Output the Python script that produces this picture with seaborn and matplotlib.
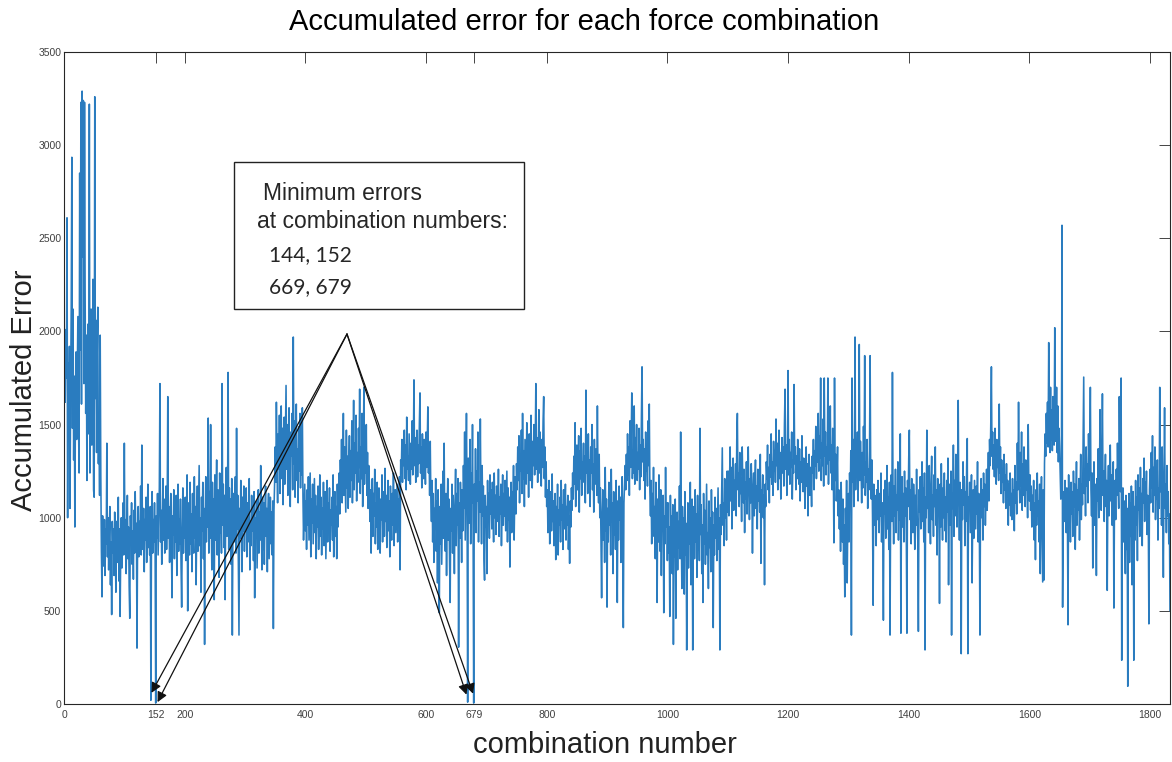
import numpy as np
import pandas as pd
import matplotlib
matplotlib.use("Agg")
import matplotlib.pyplot as plt
import matplotlib.patches as mpatches
import seaborn as sns

# ---------------- data ----------------
err_0001 = [
    1880, 1620, 2010, 1750, 2610, 1000, 1830, 1540, 1920, 1050,
    1700, 2140, 2935, 1480, 2120, 1310, 1760, 950, 1620, 1890,
    1420, 1770, 2080, 1520, 1240, 2850, 1900, 3230, 1610, 3290,
    2400, 3240, 1720, 3230, 2210, 1560, 1980, 1200, 1750, 2040,
    1450, 3220, 1240, 1830, 2120, 1390, 1700, 2280, 1150, 1110,
    3260, 1640, 2060, 1350, 1880, 2130, 1290, 1540, 1120, 1980,
    1230, 820, 575, 1010, 880, 740, 990, 690, 940, 860,
    1400, 790, 1000, 720, 910, 1060, 640, 870, 480, 980,
    810, 940, 690, 1030, 850, 600, 980, 760, 900, 1110,
    660, 940, 470, 820, 1000, 730, 890, 1080, 800, 1400,
]
err_0101 = [
    830, 990, 700, 910, 1120, 780, 950, 630, 460, 1010,
    870, 1080, 750, 930, 670, 1040, 810, 1140, 890, 970,
    300, 910, 1060, 790, 980, 850, 1170, 800, 1390, 940,
    830, 1050, 710, 990, 880, 1110, 760, 930, 1180, 840,
    1010, 800, 1060, 20, 920, 1140, 810, 990, 870, 1080,
    830, 5, 1010, 890, 1130, 800, 980, 1160, 1720, 870,
    1040, 750, 990, 1210, 880, 1100, 810, 940, 1170, 830,
    1020, 1650, 890, 1060, 760, 980, 1130, 830, 570, 1010,
    910, 1150, 780, 1030, 870, 1120, 690, 970, 1180, 820,
    990, 860, 1100, 740, 520, 930, 1160, 810, 1040, 890,
]
err_0201 = [
    1110, 770, 1000, 1230, 500, 910, 1080, 800, 1190, 860,
    1020, 710, 1130, 940, 810, 1220, 890, 1060, 640, 980,
    1170, 820, 1040, 1280, 850, 1000, 600, 1110, 930, 1190,
    780, 1050, 320, 980, 1220, 870, 1110, 950, 1535, 810,
    1140, 890, 1500, 1010, 720, 1190, 970, 1100, 560, 1230,
    880, 1070, 1310, 800, 1150, 990, 680, 1240, 920, 1090,
    810, 1720, 960, 1180, 840, 1120, 560, 1050, 1270, 900,
    1030, 1780, 830, 1160, 980, 1100, 750, 1210, 370, 990,
    1130, 870, 1080, 1220, 810, 1480, 940, 1120, 750, 370,
    1050, 890, 1200, 990, 710, 1110, 930, 1170, 820, 1030,
]
err_0301 = [
    940, 1160, 790, 1080, 870, 1020, 1210, 720, 980, 850,
    1120, 930, 1060, 770, 1140, 570, 1000, 890, 1090, 730,
    960, 1150, 810, 1030, 880, 1280, 990, 720, 1110, 830,
    1080, 750, 1000, 1170, 900, 1050, 710, 1020, 1130, 780,
    950, 1110, 860, 1030, 800, 1090, 405, 1040, 1180, 1380,
    1190, 1620, 1320, 1080, 1450, 1260, 1550, 1130, 1390, 1600,
    1210, 1480, 1070, 1350, 1540, 1180, 1430, 1710, 1260, 1500,
    1120, 1380, 1590, 1240, 1060, 1460, 1330, 1560, 1150, 1970,
    1290, 1520, 1110, 1420, 1610, 1200, 1370, 1080, 1490, 1250,
    1560, 1160, 1400, 1230, 1590, 1120, 880, 1040, 1180, 930,
]
err_0401 = [
    1090, 830, 1150, 960, 1220, 880, 1060, 1240, 790, 1100,
    970, 1180, 860, 1030, 1210, 920, 1120, 780, 1060, 950,
    1170, 830, 1000, 1230, 900, 1110, 800, 1050, 940, 1190,
    850, 1020, 1140, 780, 990, 1200, 870, 1080, 930, 1160,
    820, 1040, 960, 1110, 880, 1230, 790, 1010, 1140, 900,
    1060, 780, 1180, 950, 1090, 1240, 1020, 1310, 1150, 1420,
    1080, 1250, 1560, 1120, 1380, 1200, 1030, 1470, 1160, 1330,
    1050, 1290, 1440, 1110, 1360, 1200, 1520, 1080, 1310, 1630,
    1150, 1400, 1240, 1550, 1090, 1350, 1190, 1480, 1270, 1690,
    1130, 1380, 1210, 1560, 1060, 1310, 1700, 1180, 1420, 1240,
]
err_0501 = [
    1500, 1120, 1350, 1050, 1280, 1190, 980, 1150, 810, 1070,
    1210, 900, 1130, 1010, 1260, 860, 1080, 950, 1190, 830,
    1040, 1160, 920, 810, 1100, 990, 1230, 870, 1050, 1140,
    900, 1265, 980, 1120, 840, 1060, 1200, 930, 1090, 790,
    1170, 1010, 880, 1130, 960, 1240, 850, 1070, 1150, 920,
    1050, 1180, 870, 1100, 990, 1220, 720, 1310, 1240, 1420,
    1190, 1360, 1280, 1470, 1210, 1390, 1150, 1540, 1260, 1330,
    1200, 1450, 1310, 1180, 1400, 1260, 1520, 1230, 1370, 1740,
    1280, 1430, 1190, 1350, 1470, 1220, 1390, 1290, 1510, 1670,
    1240, 1380, 1160, 1450, 1300, 1210, 1420, 1330, 1180, 1460,
]
err_0601 = [
    1270, 1390, 1595, 1240, 1350, 1120, 1410, 1105, 980, 1200,
    870, 1130, 760, 1050, 940, 1210, 820, 1090, 650, 1150,
    930, 490, 1060, 860, 1180, 750, 1010, 1250, 890, 1400,
    970, 820, 1130, 690, 1040, 1210, 880, 1100, 760, 545,
    1050, 930, 1180, 810, 1120, 980, 700, 1060, 1260, 850,
    1130, 960, 1210, 305, 1080, 890, 1190, 1020, 760, 1150,
    930, 1280, 1050, 1460, 880, 1200, 1560, 1090, 10, 1320,
    970, 1150, 1420, 860, 1240, 1080, 1500, 940, 5, 1180,
    1010, 1370, 920, 1250, 1090, 1460, 870, 1190, 1030, 1530,
    1100, 860, 1280, 1010, 1170, 780, 665, 1120, 950, 1060,
]
err_0701 = [
    700, 1200, 980, 1130, 890, 1230, 1020, 1150, 940, 1190,
    1060, 870, 1240, 1000, 1120, 910, 1170, 1050, 980, 1260,
    900, 1110, 1020, 1180, 850, 1080, 1230, 960, 1130, 1010,
    1200, 930, 1090, 1250, 870, 1160, 990, 1110, 735, 1080,
    1190, 920, 1140, 1040, 1280, 880, 1100, 1220, 1020, 1290,
    1150, 1380, 1200, 1440, 1080, 1320, 1250, 1470, 1130, 1560,
    1210, 1360, 1060, 1420, 1290, 1180, 1510, 1240, 1370, 1110,
    1450, 1270, 1200, 1550, 1330, 1160, 1410, 1280, 1500, 1230,
    1380, 1720, 1260, 1430, 1190, 1350, 1580, 1240, 1460, 1300,
    1170, 1420, 1270, 1520, 1650, 1210, 1380, 1110, 1300, 1060,
]
err_0801 = [
    1150, 920, 1080, 1200, 860, 1020, 1140, 930, 1235, 980,
    1090, 850, 1010, 1130, 775, 1060, 920, 1180, 800, 1040,
    960, 1110, 870, 1200, 990, 1070, 830, 1150, 940, 1020,
    1180, 880, 1060, 960, 1120, 830, 1010, 755, 1090, 950,
    1160, 1040, 1240, 1100, 1330, 1180, 1510, 1060, 1290, 1390,
    1150, 1270, 1440, 1030, 1360, 1210, 1480, 1120, 1300, 1250,
    1400, 1190, 1330, 1080, 1685, 1240, 1360, 1130, 1450, 1200,
    1310, 1060, 1380, 1240, 1500, 1150, 1290, 1030, 1420, 1180,
    1260, 1370, 1120, 1600, 1210, 1080, 1340, 1000, 1160, 850,
    570, 1020, 1150, 880, 1070, 760, 1270, 930, 1100, 520,
]
err_0901 = [
    1050, 870, 1190, 960, 1120, 800, 1260, 980, 1080, 700,
    1140, 910, 1050, 830, 1200, 960, 545, 1090, 880, 1170,
    990, 1110, 760, 1030, 1220, 900, 410, 1080, 1190, 1280,
    1150, 1340, 1200, 1450, 1230, 1380, 1120, 1520, 1270, 1400,
    1670, 1210, 1360, 1240, 1600, 1180, 1430, 1290, 1500, 1200,
    1350, 1260, 1480, 1150, 1390, 1220, 1550, 1810, 1300, 1420,
    1200, 1370, 1100, 1460, 1250, 1330, 1170, 1520, 1280, 1610,
    1140, 1010, 1200, 860, 1130, 980, 1270, 900, 1060, 780,
    1190, 950, 545, 1100, 870, 1230, 1000, 820, 1150, 690,
    1060, 930, 1120, 490, 1010, 860, 1270, 950, 1080, 770,
]
err_1001 = [
    1080, 810, 950, 470, 1120, 860, 1010, 700, 1070, 320,
    940, 790, 1100, 460, 910, 1030, 720, 980, 840, 1170,
    780, 1460, 930, 620, 1060, 850, 1000, 590, 1140, 800,
    970, 290, 890, 1080, 730, 1010, 860, 1190, 640, 950,
    1100, 290, 920, 1060, 780, 1150, 870, 1020, 680, 1120,
    830, 990, 770, 1480, 910, 1070, 700, 960, 545, 1130,
    860, 1040, 750, 980, 1180, 800, 920, 620, 1090, 840,
    1000, 710, 1150, 880, 1030, 410, 960, 800, 1110, 890,
    1050, 770, 980, 1160, 830, 1000, 290, 1070, 910, 1130,
    1375, 960, 1080, 850, 1210, 1000, 1120, 880, 1250, 1030,
]
err_1101 = [
    1250, 1010, 1180, 1380, 1090, 1270, 940, 1160, 1320, 1040,
    1200, 1100, 1290, 1010, 1420, 1560, 1150, 1240, 1060, 1350,
    1130, 1210, 980, 1380, 1170, 1080, 1260, 920, 1190, 1100,
    1300, 1020, 1230, 1380, 1140, 990, 1210, 1080, 1290, 1160,
    810, 1120, 1240, 1010, 1190, 1310, 1050, 1170, 940, 1260,
    1090, 1200, 1030, 1340, 755, 1150, 1080, 1230, 1000, 1120,
    640, 1180, 1060, 1300, 1210, 1390, 1150, 1270, 1080, 1340,
    1220, 1450, 1180, 1300, 1120, 1410, 1250, 1360, 1190, 1530,
    1280, 1400, 1150, 1320, 1470, 1210, 1350, 1100, 1290, 1430,
    1240, 1380, 1170, 1500, 1690, 1260, 1390, 1120, 1330, 1790,
]
err_1201 = [
    1230, 1420, 1180, 1350, 1270, 1460, 1100, 1310, 1240, 1715,
    1290, 1380, 1150, 1330, 1210, 1420, 1260, 1180, 1370, 1090,
    1300, 1190, 1440, 1230, 1140, 1320, 1260, 1050, 1210, 1380,
    1170, 1290, 1010, 1250, 1340, 1120, 1270, 1200, 1060, 1330,
    1240, 1420, 1150, 1360, 1280, 1490, 1210, 1380, 1300, 1560,
    1250, 1440, 1320, 1750, 1200, 1400, 1280, 1530, 1170, 1750,
    1330, 1460, 1230, 1380, 1290, 1750, 1180, 1420, 1310, 1600,
    1240, 1390, 1150, 1480, 1270, 865, 1750, 1200, 1340, 1090,
    1220, 1380, 1010, 1150, 940, 1080, 820, 1190, 1000, 870,
    1100, 750, 960, 575, 1050, 880, 1200, 650, 990, 1130,
]
err_1301 = [
    870, 1240, 1080, 1360, 370, 1750, 1190, 1420, 1060, 1330,
    1970, 1150, 1380, 1240, 1460, 1090, 1310, 1930, 1200, 1410,
    1270, 1080, 1350, 1160, 1490, 1230, 1870, 1120, 1300, 1190,
    1420, 1050, 1260, 1150, 1360, 1870, 1220, 1100, 1310, 1000,
    530, 1180, 960, 1120, 1090, 850, 1150, 990, 1200, 1060,
    920, 1130, 1010, 1240, 870, 1080, 960, 450, 1150, 1020,
    1200, 890, 1060, 1280, 940, 1110, 830, 1190, 370, 1050,
    1230, 980, 1780, 1090, 860, 1170, 1010, 1260, 920, 1120,
    1040, 1300, 880, 1150, 990, 1450, 380, 1100, 1220, 950,
    1130, 870, 1250, 1010, 1160, 900, 380, 1200, 1060, 1320,
]
err_1401 = [
    1470, 990, 1150, 860, 1210, 1040, 920, 1180, 1070, 830,
    1120, 960, 1260, 1010, 880, 390, 1150, 1030, 1220, 940,
    1090, 1300, 980, 1160, 870, 1240, 290, 1110, 1000, 1470,
    1050, 1190, 920, 1280, 1030, 860, 1170, 1330, 990, 1120,
    900, 1230, 1060, 1380, 960, 1150, 800, 1210, 1020, 1100,
    540, 1180, 950, 1290, 1060, 880, 1160, 1000, 1240, 930,
    1110, 870, 1200, 1030, 1320, 640, 1090, 1180, 960, 1250,
    370, 1130, 1050, 1390, 900, 1200, 1010, 1340, 1120, 950,
    1260, 1630, 1080, 880, 1190, 1040, 270, 1150, 990, 1300,
    1070, 1220, 850, 1140, 980, 1280, 1425, 270, 1110, 1040,
]
err_1501 = [
    1190, 920, 1080, 1230, 650, 1010, 1150, 890, 1200, 1060,
    940, 1170, 1020, 1300, 870, 1130, 990, 370, 1090, 1210,
    1000, 1150, 880, 1240, 1060, 1180, 960, 1110, 1260, 1040,
    1170, 1350, 1090, 1420, 1280, 1510, 1810, 1330, 1460, 1260,
    1390, 1220, 1480, 1300, 1180, 1420, 1270, 1350, 1200, 1610,
    1240, 1380, 1130, 1310, 1190, 1260, 1080, 1340, 1150, 1230,
    1050, 1290, 1110, 1200, 960, 1180, 1070, 1240, 1010, 1130,
    990, 1210, 1060, 1150, 930, 1280, 1080, 1190, 1020, 1400,
    1150, 1620, 1230, 1080, 1350, 1170, 1460, 1040, 1290, 1120,
    1380, 1200, 1060, 1310, 1150, 1240, 1000, 1500, 1180, 1090,
]
err_1601 = [
    1230, 1040, 1170, 950, 1120, 1010, 1200, 880, 1080, 775,
    1150, 960, 1240, 1010, 1090, 870, 1180, 700, 1060, 1220,
    930, 655, 1150, 665, 1290, 1450, 1330, 1560, 1400, 1620,
    1380, 1940, 1470, 1350, 1700, 1420, 1580, 1360, 1650, 1490,
    1390, 2020, 1520, 1410, 1700, 1350, 1600, 1300, 1480, 1380,
    1250, 1100, 1180, 2570, 520, 1050, 1140, 980, 1200, 1080,
    920, 1160, 1010, 425, 1230, 960, 1110, 870, 1190, 1020,
    1140, 900, 1250, 1060, 1180, 830, 1090, 1300, 960, 1150,
    1040, 1210, 880, 1120, 1340, 990, 1180, 1070, 1420, 1755,
    1130, 1260, 1010, 1380, 1170, 1290, 1080, 1450, 1200, 1330,
]
err_1701 = [
    1700, 1150, 1010, 1240, 730, 1120, 1300, 960, 1180, 1060,
    690, 1210, 1090, 1370, 1000, 1150, 1580, 1230, 1040, 1310,
    1665, 1120, 1250, 980, 1190, 1340, 1060, 1200, 610, 1130,
    1280, 1010, 1170, 1390, 1090, 1230, 960, 1150, 1300, 515,
    1070, 1200, 990, 1260, 1120, 1400, 1180, 1050, 1650, 1280,
    1140, 1750, 235, 1020, 1160, 870, 1090, 960, 700, 1120,
    830, 1050, 95, 980, 1130, 760, 1080, 900, 1170, 640,
    1010, 1140, 235, 1060, 880, 1200, 960, 1110, 770, 1230,
    1040, 1160, 900, 1270, 1020, 1130, 850, 1210, 1080, 1320,
    980, 1190, 1060, 1250, 910, 1120, 1020, 430, 1150, 1260,
]
err_1801 = [
    1080, 1350, 1160, 1440, 1030, 1270, 1120, 1380, 990, 1210,
    1100, 1310, 880, 1160, 1050, 1700, 1140, 1250, 960, 1380,
    1090, 680, 1200, 1590, 1050, 1180, 920, 1280, 1010, 1140,
    860, 1020, 500,
]

x_ticks = [0, 152, 200, 400, 600, 679, 800, 1000, 1200, 1400, 1600, 1800]
y_ticks = [0, 500, 1000, 1500, 2000, 2500, 3000, 3500]
min_combos = [145, 155, 667, 678]
min_tip_err = [60, 10, 50, 55]
apex = (469, 1986)

title_txt = "Accumulated error for each force combination"
xlabel_txt = "combination number"
ylabel_txt = "Accumulated Error"
box_lines = ["Minimum errors", "at combination numbers:", "144, 152", "669, 679"]

# ---------------- build frame ----------------
errors = (err_0001 + err_0101 + err_0201 + err_0301 + err_0401 + err_0501 +
          err_0601 + err_0701 + err_0801 + err_0901 + err_1001 + err_1101 +
          err_1201 + err_1301 + err_1401 + err_1501 + err_1601 + err_1701 +
          err_1801)
df = pd.DataFrame({"combination": np.arange(1, len(errors) + 1), "error": errors})

# ---------------- plot ----------------
sns.set_style("white")
plt.rcParams["font.family"] = ["Liberation Sans", "DejaVu Sans"]

fig = plt.figure(figsize=(11.72, 7.62), dpi=100)
ax = fig.add_axes([64 / 1172, 1 - 704 / 762, (1170 - 64) / 1172, (704 - 52) / 762])

sns.lineplot(data=df, x="combination", y="error", ax=ax, color="#2a7cbf",
             linewidth=1.15, estimator=None)

ax.set_xlim(0, len(errors))
ax.set_ylim(0, 3500)
ax.set_xticks(x_ticks)
ax.set_xticklabels([str(t) for t in x_ticks])
ax.set_yticks(y_ticks)
ax.set_yticklabels([str(t) for t in y_ticks])
ax.set_xlabel("")
ax.set_ylabel("")

for s in ax.spines.values():
    s.set_visible(True)
    s.set_color("#262626")
    s.set_linewidth(0.8)
ax.tick_params(axis="both", direction="in", length=8, width=0.6,
               color="#262626", top=True, right=True, labelsize=7.5,
               labelcolor="#404040")
ax.tick_params(axis="x", pad=4)
ax.tick_params(axis="y", pad=2)

# titles / labels
fig.text(584.5 / 1172, 1 - 22 / 762, title_txt, ha="center", va="center",
         fontsize=21, color="black")
fig.text(605 / 1172, 1 - 745 / 762, xlabel_txt, ha="center", va="center",
         fontsize=21, color="#222222")
fig.text(24 / 1172, 1 - 390 / 762, ylabel_txt, ha="center", va="center",
         rotation=90, fontsize=21, color="#222222")

# annotation box
rect = mpatches.Rectangle((0.1537, 0.6058), 0.4159 - 0.1537, 0.8313 - 0.6058,
                          transform=ax.transAxes, facecolor="white",
                          edgecolor="#222222", linewidth=1.0, zorder=5)
ax.add_patch(rect)
ax.text(0.1799, 0.7837, box_lines[0], transform=ax.transAxes, ha="left",
        va="center", fontsize=16.5, zorder=6)
ax.text(0.1745, 0.7393, box_lines[1], transform=ax.transAxes, ha="left",
        va="center", fontsize=16.5, zorder=6)
ax.text(0.1854, 0.6887, box_lines[2], transform=ax.transAxes, ha="left",
        va="center", fontsize=15, family=["Lato", "DejaVu Sans"], zorder=6)
ax.text(0.1854, 0.6396, box_lines[3], transform=ax.transAxes, ha="left",
        va="center", fontsize=15, family=["Lato", "DejaVu Sans"], zorder=6)

# arrows
for cx, cy in zip(min_combos, min_tip_err):
    ax.annotate("", xy=(cx, cy), xytext=apex, xycoords="data",
                textcoords="data",
                arrowprops=dict(arrowstyle="-|>", color="#111111", lw=0.9,
                                mutation_scale=15, shrinkA=0, shrinkB=0),
                zorder=7)

fig.savefig("out.png", dpi=100)
